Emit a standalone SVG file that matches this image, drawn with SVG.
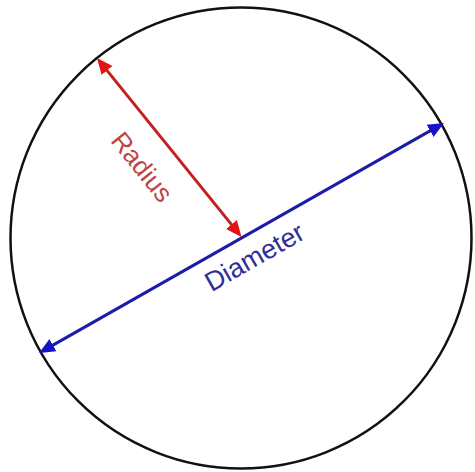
<svg xmlns="http://www.w3.org/2000/svg" width="475" height="472" viewBox="0 0 475 472">
  <style>
    .circ { fill: #ffffff; stroke: #111111; stroke-width: 2.5; }
    .diam { stroke: #1c1ca8; stroke-width: 3; fill: none; }
    .rad { stroke: #c42020; stroke-width: 3; fill: none; }
    .lbl { font-family: "Liberation Sans", Arial, sans-serif; text-anchor: middle; }
  </style>
  <defs>
    <marker id="arrBlue" markerUnits="userSpaceOnUse" markerWidth="18" markerHeight="16" viewBox="0 -8 18 16" refX="5" refY="0" orient="auto-start-reverse">
      <path d="M0,-7 L16,0 L0,7 z" fill="#1414c8"/>
    </marker>
    <marker id="arrRed" markerUnits="userSpaceOnUse" markerWidth="18" markerHeight="16" viewBox="0 -8 18 16" refX="5" refY="0" orient="auto-start-reverse">
      <path d="M0,-7 L16,0 L0,7 z" fill="#e01414"/>
    </marker>
  </defs>
  <rect width="475" height="472" fill="#ffffff"/>
  <g id="circle">
    <circle class="circ" cx="241" cy="238" r="230.5"/>
  </g>
  <g id="connectors">
    <line id="diameter" class="diam" x1="48.6" y1="347.6" x2="434.4" y2="128.4" marker-start="url(#arrBlue)" marker-end="url(#arrBlue)"/>
    <line id="radius" class="rad" x1="103.9" y1="66.6" x2="234.6" y2="228.4" marker-start="url(#arrRed)" marker-end="url(#arrRed)"/>
  </g>
  <g id="labels">
    <text class="lbl" font-size="27" fill="#2e2e96" transform="translate(259,265) rotate(-29.7)">Diameter</text>
    <text class="lbl" font-size="26" fill="#c04444" transform="translate(135,172.5) rotate(51.2)">Radius</text>
  </g>
</svg>
